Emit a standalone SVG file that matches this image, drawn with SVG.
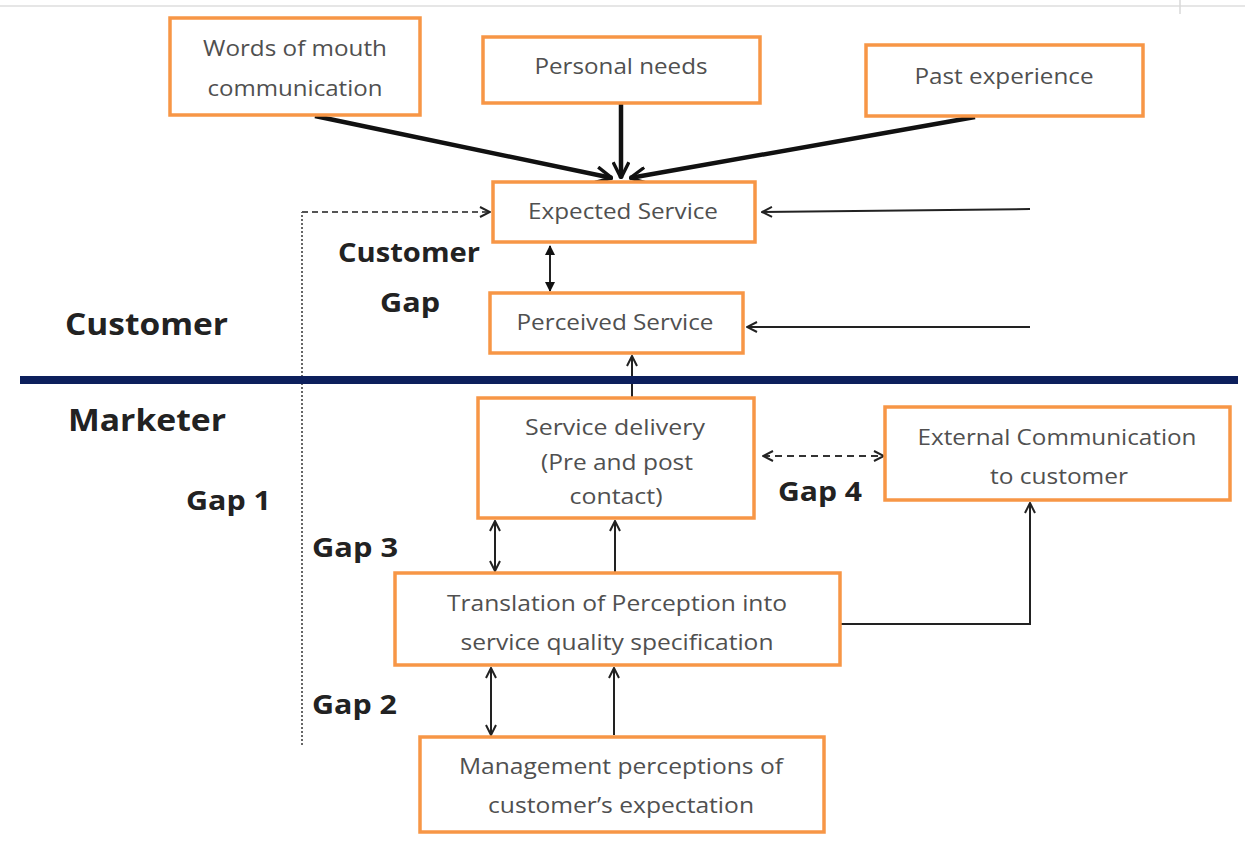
<svg xmlns="http://www.w3.org/2000/svg" width="1245" height="843" viewBox="0 0 1245 843">
<style>
.box{fill:#fff;stroke:#f79646;stroke-width:3.5}
.t{font-family:"Open Sans","Liberation Sans",sans-serif;font-size:22px;fill:#505050;text-anchor:middle}
.lb{font-family:"Open Sans","Liberation Sans",sans-serif;font-size:27px;font-weight:bold;fill:#222}
.c{stroke:#222;stroke-width:2;fill:none}
.thick{stroke:#111;stroke-width:4.5;fill:none}
</style>
<defs>
<marker id="open" viewBox="0 0 12 12" refX="11" refY="6" markerWidth="12" markerHeight="12" markerUnits="userSpaceOnUse" orient="auto-start-reverse">
<path d="M1,1 L11,6 L1,11" fill="none" stroke="#222" stroke-width="2"/>
</marker>
<marker id="big" viewBox="0 0 16 16" refX="15" refY="8" markerWidth="18" markerHeight="18" markerUnits="userSpaceOnUse" orient="auto">
<path d="M1,1 L15,8 L1,15" fill="none" stroke="#111" stroke-width="3"/>
</marker>
<marker id="fill" viewBox="0 0 10 10" refX="9" refY="5" markerWidth="10" markerHeight="10" markerUnits="userSpaceOnUse" orient="auto-start-reverse">
<path d="M0,0 L10,5 L0,10 Z" fill="#111"/>
</marker>
</defs>
<rect width="1245" height="843" fill="#fff"/>
<line x1="0" y1="6" x2="1245" y2="6" stroke="#e6e6e6" stroke-width="2"/>
<line x1="1180" y1="0" x2="1180" y2="14" stroke="#d8d8d8" stroke-width="1.5"/>

<g id="connectors">
<line class="thick" x1="315" y1="116" x2="612" y2="178" marker-end="url(#big)"/>
<line class="thick" x1="621" y1="104" x2="621" y2="178" marker-end="url(#big)"/>
<line class="thick" x1="975" y1="117" x2="630" y2="178" marker-end="url(#big)"/>
<polyline points="302,745 302,212" fill="none" stroke="#666" stroke-width="2" stroke-dasharray="2,2"/>
<line x1="302" y1="212" x2="490" y2="212" stroke="#555" stroke-width="2" stroke-dasharray="6,4" marker-end="url(#open)"/>
<line class="c" x1="1030" y1="209" x2="762" y2="212" marker-end="url(#open)"/>
<line class="c" x1="1030" y1="327" x2="747" y2="327" marker-end="url(#open)"/>
<line class="c" x1="550" y1="246" x2="550" y2="291" marker-start="url(#fill)" marker-end="url(#fill)"/>
<line class="c" x1="632" y1="376" x2="632" y2="356" marker-end="url(#open)"/>
<line class="c" x1="632" y1="384" x2="632" y2="397"/>
<line x1="763" y1="456" x2="884" y2="456" stroke="#333" stroke-width="2" stroke-dasharray="7,5" marker-start="url(#open)" marker-end="url(#open)"/>
<line class="c" x1="495" y1="521" x2="495" y2="571" marker-start="url(#open)" marker-end="url(#open)"/>
<line class="c" x1="615" y1="572" x2="615" y2="521" marker-end="url(#open)"/>
<polyline class="c" points="841,624 1030,624 1030,503" marker-end="url(#open)"/>
<line class="c" x1="491" y1="668" x2="491" y2="735" marker-start="url(#open)" marker-end="url(#open)"/>
<line class="c" x1="614" y1="735" x2="614" y2="668" marker-end="url(#open)"/>
</g>

<rect x="20" y="376" width="1218" height="8" fill="#0d1f5c"/>

<g id="n-wom"><rect class="box" x="170" y="18" width="250" height="97"/>
<text class="t" x="295" y="56" textLength="184" lengthAdjust="spacingAndGlyphs">Words of mouth</text><text class="t" x="295" y="96" textLength="175" lengthAdjust="spacingAndGlyphs">communication</text></g>
<g id="n-pn"><rect class="box" x="483" y="37" width="277" height="66"/>
<text class="t" x="621" y="74" textLength="173" lengthAdjust="spacingAndGlyphs">Personal needs</text></g>
<g id="n-pe"><rect class="box" x="866" y="45" width="277" height="71"/>
<text class="t" x="1004" y="84" textLength="179" lengthAdjust="spacingAndGlyphs">Past experience</text></g>
<g id="n-es"><rect class="box" x="493" y="182" width="262" height="60"/>
<text class="t" x="623" y="219" textLength="190" lengthAdjust="spacingAndGlyphs">Expected Service</text></g>
<g id="n-ps"><rect class="box" x="490" y="293" width="253" height="60"/>
<text class="t" x="615" y="330" textLength="197" lengthAdjust="spacingAndGlyphs">Perceived Service</text></g>
<g id="n-sd"><rect class="box" x="478" y="398" width="276" height="120"/>
<text class="t" x="615" y="435" textLength="180" lengthAdjust="spacingAndGlyphs">Service delivery</text><text class="t" x="617" y="470" textLength="152" lengthAdjust="spacingAndGlyphs">(Pre and post</text><text class="t" x="616" y="504" textLength="93" lengthAdjust="spacingAndGlyphs">contact)</text></g>
<g id="n-ec"><rect class="box" x="885" y="407" width="345" height="93"/>
<text class="t" x="1057" y="445" textLength="279" lengthAdjust="spacingAndGlyphs">External Communication</text><text class="t" x="1059" y="484" textLength="138" lengthAdjust="spacingAndGlyphs">to customer</text></g>
<g id="n-tr"><rect class="box" x="395" y="573" width="445" height="92"/>
<text class="t" x="617" y="611" textLength="340" lengthAdjust="spacingAndGlyphs">Translation of Perception into</text><text class="t" x="617" y="650" textLength="313" lengthAdjust="spacingAndGlyphs">service quality specification</text></g>
<g id="n-mp"><rect class="box" x="420" y="737" width="404" height="95"/>
<text class="t" x="621" y="774" textLength="324" lengthAdjust="spacingAndGlyphs">Management perceptions of</text><text class="t" x="621" y="813" textLength="266" lengthAdjust="spacingAndGlyphs">customer’s expectation</text></g>

<g id="labels">
<text class="lb" x="65" y="335" style="font-size:30px" textLength="163" lengthAdjust="spacingAndGlyphs">Customer</text>
<text class="lb" x="68" y="431" style="font-size:30px" textLength="158" lengthAdjust="spacingAndGlyphs">Marketer</text>
<text class="lb" x="338" y="262" textLength="142" lengthAdjust="spacingAndGlyphs">Customer</text>
<text class="lb" x="380" y="312" textLength="60" lengthAdjust="spacingAndGlyphs">Gap</text>
<text class="lb" x="186" y="510" textLength="85" lengthAdjust="spacingAndGlyphs">Gap 1</text>
<text class="lb" x="312" y="557" textLength="86" lengthAdjust="spacingAndGlyphs">Gap 3</text>
<text class="lb" x="312" y="714" textLength="85" lengthAdjust="spacingAndGlyphs">Gap 2</text>
<text class="lb" x="778" y="501" textLength="84" lengthAdjust="spacingAndGlyphs">Gap 4</text>
</g>
</svg>
